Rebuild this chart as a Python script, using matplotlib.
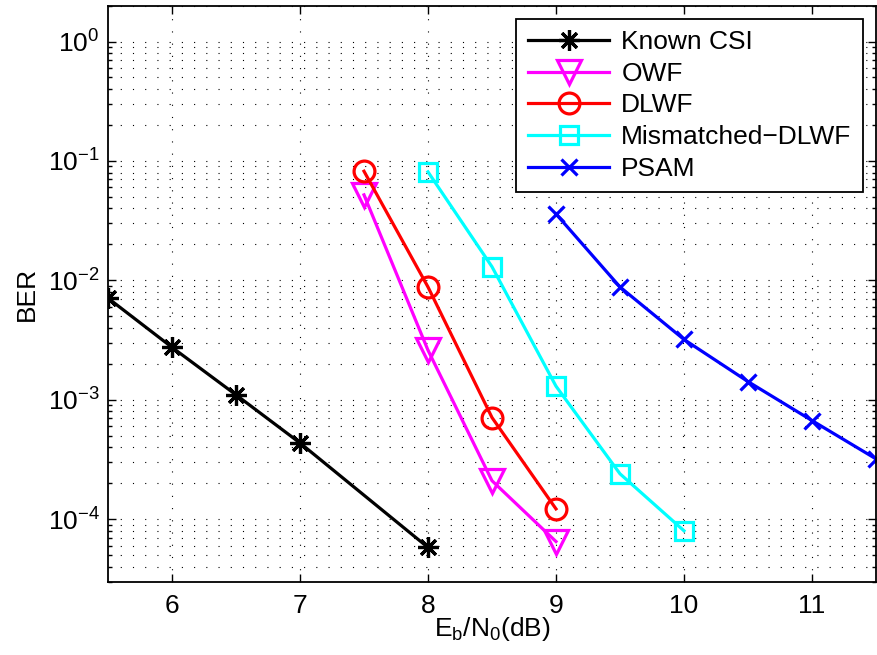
import numpy as np
import matplotlib
matplotlib.use("Agg")
import matplotlib.pyplot as plt
from matplotlib.ticker import LogLocator, NullFormatter, FixedLocator

plt.rcParams['font.family'] = ['Liberation Sans', 'DejaVu Sans']
plt.rcParams['mathtext.fontset'] = 'custom'
plt.rcParams['mathtext.rm'] = 'Liberation Sans'
plt.rcParams['mathtext.default'] = 'regular'

# data
snr_known = [5.5, 6.0, 6.5, 7.0, 8.0]
ber_known = [7.1e-3, 2.75e-3, 1.1e-3, 4.35e-4, 5.8e-5]

snr_owf = [7.5, 8.0, 8.5, 9.0]
ber_owf = [5.2e-2, 2.6e-3, 2.1e-4, 6.5e-5]

snr_dlwf = [7.5, 8.0, 8.5, 9.0]
ber_dlwf = [8.2e-2, 8.8e-3, 7.1e-4, 1.22e-4]

snr_mism = [8.0, 8.5, 9.0, 9.5, 10.0]
ber_mism = [8.1e-2, 1.3e-2, 1.3e-3, 2.4e-4, 8.0e-5]

snr_psam = [9.0, 9.5, 10.0, 10.5, 11.0, 11.5]
ber_psam = [3.6e-2, 8.8e-3, 3.2e-3, 1.42e-3, 6.7e-4, 3.2e-4]

series = [
    ("Known CSI", snr_known, ber_known, "black", (8, 2, 0), 15),
    ("OWF", snr_owf, ber_owf, "#ff00ff", "v", 17),
    ("DLWF", snr_dlwf, ber_dlwf, "#ff0000", "o", 15),
    ("Mismatched\u2212DLWF", snr_mism, ber_mism, "#00ffff", "s", 13),
    ("PSAM", snr_psam, ber_psam, "#0000ff", "x", 11),
]

FS = 19

fig = plt.figure(figsize=(8.78, 6.55), dpi=100)
ax = fig.add_axes([0.123, 0.112, 0.8747, 0.8795])

for name, x, y, col, mk, ms in series:
    ax.plot(x, y, color=col, marker=mk, markersize=ms, linewidth=2.3,
            markerfacecolor='none', markeredgecolor=col, markeredgewidth=2.3,
            label=name)

ax.set_yscale('log')
ax.set_xlim(5.5, 11.5)
ax.set_ylim(3e-5, 2)
ax.xaxis.set_major_locator(FixedLocator([6, 7, 8, 9, 10, 11]))
ax.yaxis.set_major_locator(LogLocator(base=10, numticks=10))
ax.yaxis.set_minor_locator(LogLocator(base=10, subs=np.arange(2, 10), numticks=20))
ax.yaxis.set_minor_formatter(NullFormatter())

grid_style = dict(color='black', linewidth=0.8, linestyle=(0, (1, 10)))
ax.grid(True, which='major', axis='x', **grid_style)
ax.grid(True, which='both', axis='y', **grid_style)

ax.tick_params(which='both', direction='in', top=True, right=True,
               labelsize=FS, width=1.0, color='black')
ax.tick_params(which='major', length=6)
ax.tick_params(which='minor', length=3)
ax.tick_params(axis='x', pad=9)
ax.tick_params(axis='y', pad=6)
for sp in ax.spines.values():
    sp.set_linewidth(1.3)

ax.set_xlabel(r'E$_b$/N$_0$(dB)', fontsize=FS, labelpad=-2)
ax.set_ylabel('BER', fontsize=FS, labelpad=6)

leg = ax.legend(loc='upper right', bbox_to_anchor=(0.983, 0.977),
                fontsize=FS, numpoints=1, handlelength=3.1,
                handletextpad=0.45, labelspacing=0.29, borderpad=0.43,
                borderaxespad=0.0, fancybox=False, framealpha=1)
leg.get_frame().set_edgecolor('black')
leg.get_frame().set_linewidth(1.3)

fig.savefig('out.png', dpi=100)
